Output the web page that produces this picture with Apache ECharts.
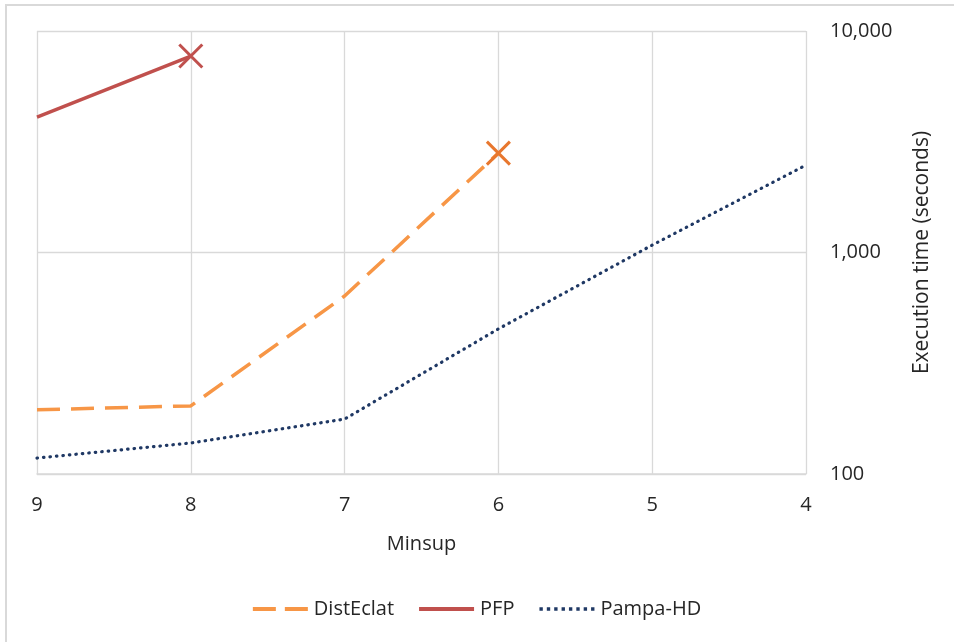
<!DOCTYPE html>
<html>
<head>
<meta charset="utf-8">
<script src="https://cdn.jsdelivr.net/npm/echarts@6/dist/echarts.min.js"></script>
<style>html,body{margin:0;padding:0;background:#fff}#c{width:954px;height:642px}</style>
</head>
<body>
<div id="c"></div>
<script>
var categories = ['9', '8', '7', '6', '5', '4'];
var distEclat = [195, 203, 636, 2810];
var pfp = [4090, 7710];
var pampaHD = [118, 138, 177, 452, 1080, 2480];
var yTicks = [100, 1000, 10000];

function withEndMarker(arr, color) {
  return arr.map(function (v, i) {
    if (i === arr.length - 1) {
      return {
        value: v,
        symbol: 'path://M0,0L10,10M10,0L0,10',
        symbolSize: 23,
        itemStyle: { color: 'none', borderColor: color, borderWidth: 3 }
      };
    }
    return v;
  });
}

var dotsPath = 'path://';
for (var k = 0; k < 8; k++) { dotsPath += 'M' + (k * 7) + ',0.5h3.2v3.2h-3.2z'; }

var font = 'Open Sans';
var chart = echarts.init(document.getElementById('c'));
chart.setOption({
  animation: false,
  backgroundColor: '#fff',
  textStyle: { fontFamily: font },
  graphic: [
    { type: 'line', shape: { x1: 5, y1: 5, x2: 954, y2: 5 }, style: { stroke: '#D9D9D9', lineWidth: 2 } },
    { type: 'line', shape: { x1: 6, y1: 5, x2: 6, y2: 642 }, style: { stroke: '#D9D9D9', lineWidth: 2 } }
  ],
  grid: { left: 37, right: 148, top: 31, bottom: 168, containLabel: false },
  legend: {
    data: [
      { name: 'DistEclat', icon: 'path://M0,0h23v4h-23zM32,0h23v4h-23z' },
      { name: 'PFP', icon: 'path://M0,0h55v4h-55z' },
      { name: 'Pampa-HD', icon: dotsPath }
    ],
    left: 'center',
    top: 594,
    itemWidth: 55,
    itemHeight: 4,
    itemGap: 25,
    textStyle: { fontFamily: font, fontSize: 20, color: '#262626', padding: [0, 0, 0, 1] }
  },
  xAxis: {
    type: 'category',
    data: categories,
    boundaryGap: false,
    name: 'Minsup',
    nameLocation: 'middle',
    nameGap: 60,
    nameTextStyle: { fontFamily: font, fontSize: 20, color: '#262626' },
    axisLine: { lineStyle: { color: '#D9D9D9', width: 1.5 } },
    axisTick: { show: false },
    axisLabel: { margin: 21, fontFamily: font, fontSize: 20, color: '#262626' },
    splitLine: { show: true, lineStyle: { color: '#D9D9D9', width: 1.3 } }
  },
  yAxis: {
    type: 'log',
    logBase: 10,
    min: 100,
    max: 10000,
    position: 'right',
    name: 'Execution time (seconds)',
    nameLocation: 'middle',
    nameRotate: 90,
    nameGap: 106,
    nameTextStyle: { fontFamily: font, fontSize: 21, color: '#262626' },
    axisLine: { show: false },
    axisTick: { show: false },
    axisLabel: {
      margin: 24,
      fontFamily: font,
      fontSize: 20,
      color: '#262626',
      formatter: function (v) {
        var r = yTicks.filter(function (t) { return Math.abs(t - v) < 1e-6 * t; });
        return r.length ? r[0].toLocaleString('en-US') : '';
      }
    },
    splitLine: { show: true, lineStyle: { color: '#D9D9D9', width: 1.3 } }
  },
  series: [
    {
      name: 'DistEclat',
      type: 'line',
      data: withEndMarker(distEclat, '#E8772E'),
      symbol: 'none',
      color: '#F79646',
      lineStyle: { color: '#F79646', width: 3.5, type: [23, 11] },
      z: 3
    },
    {
      name: 'PFP',
      type: 'line',
      data: withEndMarker(pfp, '#C0504D'),
      symbol: 'none',
      color: '#C0504D',
      lineStyle: { color: '#C0504D', width: 3.5, type: 'solid' },
      z: 3
    },
    {
      name: 'Pampa-HD',
      type: 'line',
      data: pampaHD,
      symbol: 'none',
      color: '#1F3864',
      lineStyle: { color: '#1F3864', width: 3.2, type: [0.5, 6], cap: 'round' },
      z: 3
    }
  ]
});
</script>
</body>
</html>
